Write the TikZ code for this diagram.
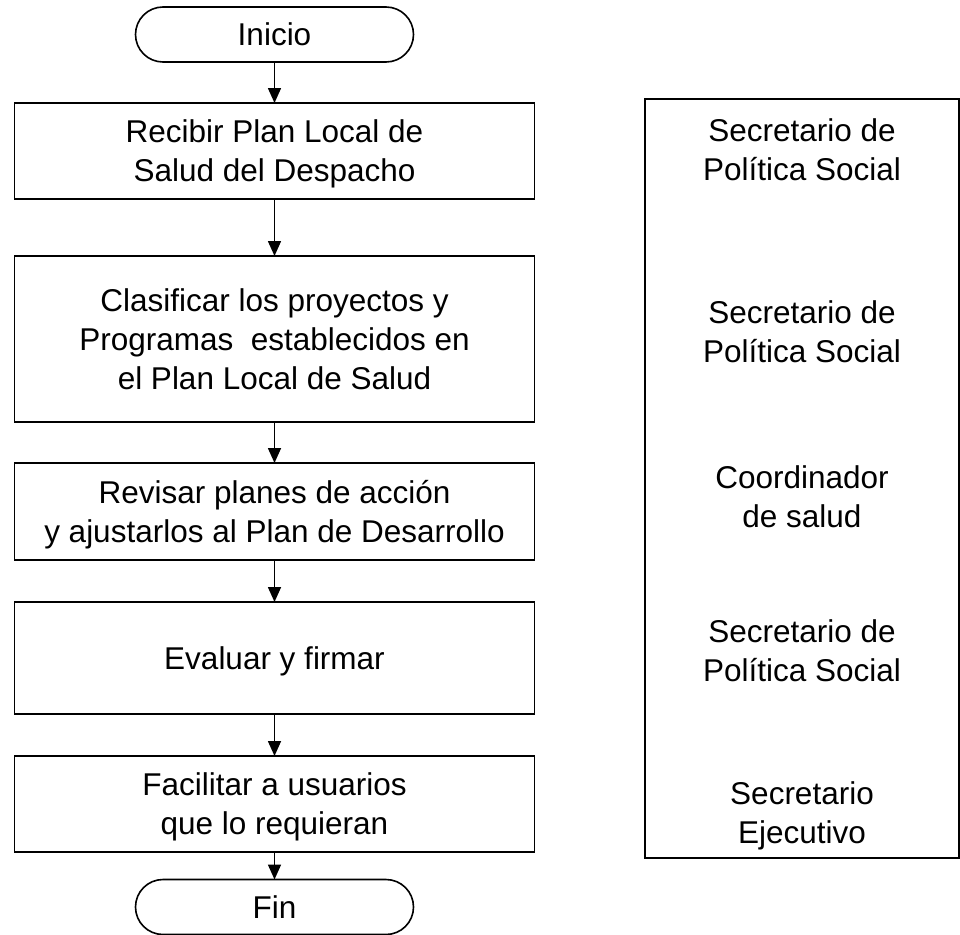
\documentclass[tikz,border=0pt]{standalone}
\usepackage{fontspec}
\setmainfont{Liberation Sans}
\usetikzlibrary{arrows.meta}
\newcommand{\topst}{\rule{0pt}{32.5pt}}
\newcommand{\botst}{\rule[-10pt]{0pt}{10pt}}
\begin{document}
\begin{tikzpicture}[x=1pt,y=-1pt,
  base/.style={font=\fontsize{31.5pt}{39pt}\selectfont, align=center, inner sep=0pt, outer sep=0pt, line width=1.6pt},
  procbox/.style={base, draw, minimum width=520pt},
  termbox/.style={base, draw, minimum width=278pt, minimum height=55pt, rounded corners=27.5pt},
  rolebox/.style={base, draw, minimum width=314pt, minimum height=759pt},
  roletext/.style={base},
  flow/.style={line width=1.6pt, -{Triangle[width=13pt,length=15pt]}}]
\useasboundingbox (0,0) rectangle (960,934);

\node[termbox] (ini) at (274.5,34.5) {\topst Inicio\botst};
\node[procbox, minimum height=96pt] (b1) at (274.5,151) {\topst Recibir Plan Local de\\Salud del Despacho\botst};
\node[procbox, minimum height=166pt] (b2) at (274.5,339) {\topst Clasificar los proyectos y\\Programas~~establecidos en\\el Plan Local de Salud\botst};
\node[procbox, minimum height=97pt] (b3) at (274.5,511.5) {\topst Revisar planes de acción\\y ajustarlos al Plan de Desarrollo\botst};
\node[procbox, minimum height=112pt] (b4) at (274.5,658) {\topst Evaluar y firmar\botst};
\node[procbox, minimum height=96pt] (b5) at (274.5,804) {\topst Facilitar a usuarios\\que lo requieran\botst};
\node[termbox] (fin) at (274.5,907) {\topst Fin\botst};

\draw[flow] (ini) -- (b1);
\draw[flow] (b1) -- (b2);
\draw[flow] (b2) -- (b3);
\draw[flow] (b3) -- (b4);
\draw[flow] (b4) -- (b5);
\draw[flow] (b5) -- (fin);

\node[rolebox] (roles) at (802,478.5) {};
\node[roletext] (r1) at (802,150) {\topst Secretario de\\Política Social\botst};
\node[roletext] (r2) at (802,331.5) {\topst Secretario de\\Política Social\botst};
\node[roletext] (r3) at (802,497) {\topst Coordinador\\de salud\botst};
\node[roletext] (r4) at (802,650.5) {\topst Secretario de\\Política Social\botst};
\node[roletext] (r5) at (802,813) {\topst Secretario\\Ejecutivo\botst};
\end{tikzpicture}
\end{document}
